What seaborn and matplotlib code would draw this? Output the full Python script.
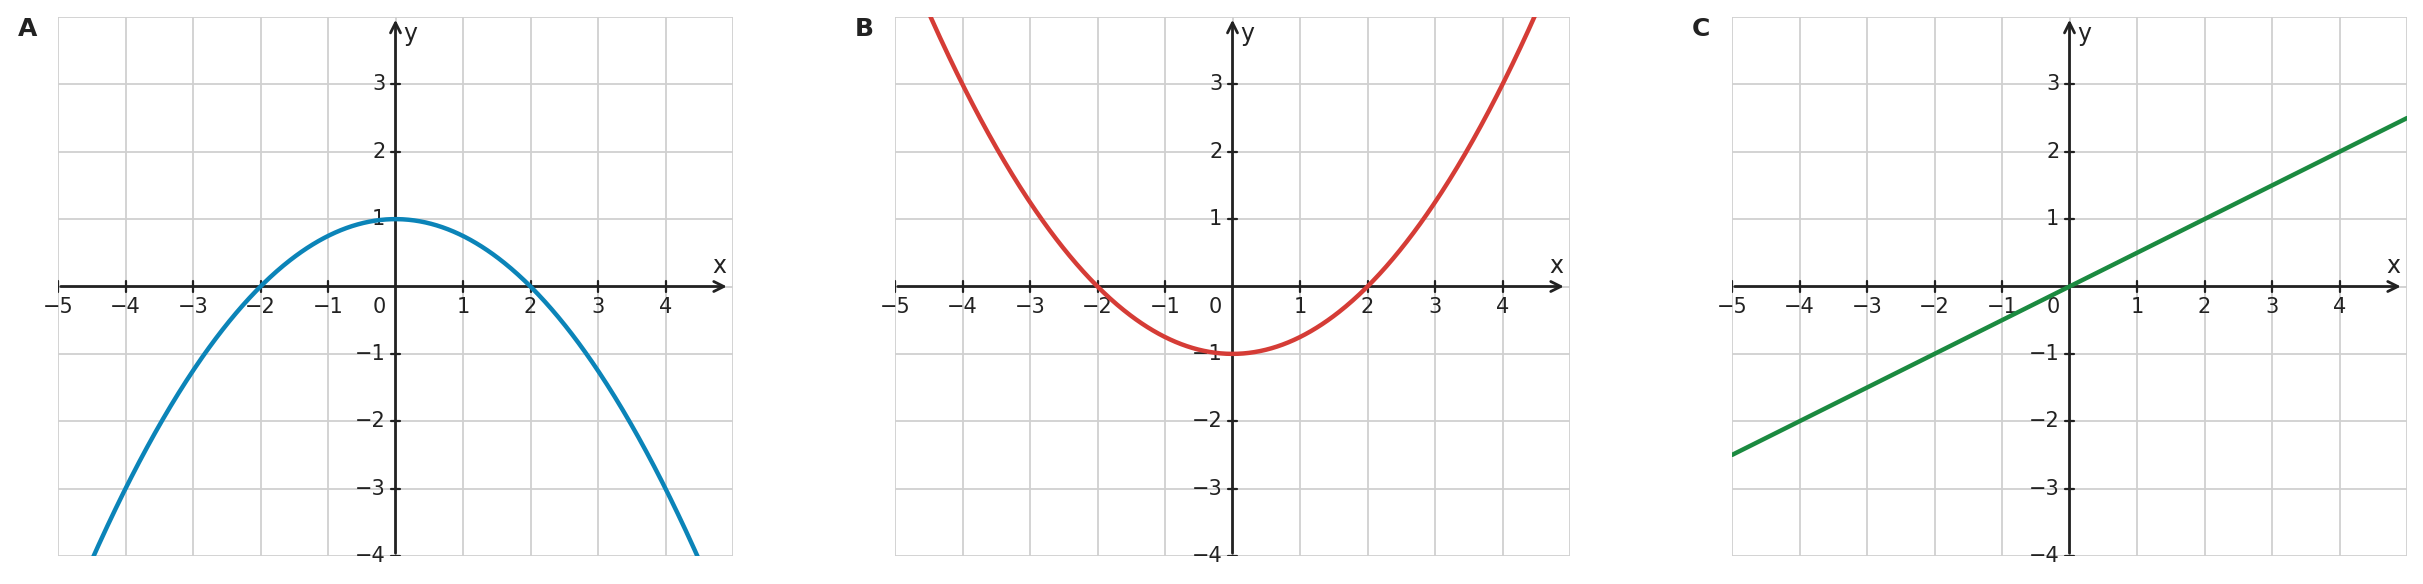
import numpy as np
import matplotlib
matplotlib.use("Agg")
import matplotlib.pyplot as plt
import seaborn as sns
import pandas as pd

sns.set_theme(style="white")
plt.rcParams['font.family'] = ['DejaVu Sans']

panel_labels = ["A", "B", "C"]
# polynomial coefficients (highest power first)
coeffs = [[-0.25, 0.0, 1.0], [0.25, 0.0, -1.0], [0.5, 0.0]]
colors = ["#0b84b8", "#d53c36", "#1b8a40"]
x_ticks = [-5, -4, -3, -2, -1, 1, 2, 3, 4]
y_ticks = [-4, -3, -2, -1, 1, 2, 3]

fig = plt.figure(figsize=(24.23, 5.84), dpi=100)
lefts = [58/2423, 895/2423, 1732/2423]
w = 675/2423
bottom = (584-556)/584
h = (556-17)/584

for i in range(3):
    ax = fig.add_axes([lefts[i], bottom, w, h])
    ax.set_xlim(-5, 5)
    ax.set_ylim(-4, 4)
    for s in ax.spines.values():
        s.set_visible(False)
    ax.set_xticks([]); ax.set_yticks([])
    for g in range(-5, 6):
        ax.axvline(g, color="#d0d0d0", lw=1.3, zorder=0)
    for g in range(-4, 5):
        ax.axhline(g, color="#d0d0d0", lw=1.3, zorder=0)
    ax.annotate("", xy=(4.95, 0), xytext=(-5, 0),
                arrowprops=dict(arrowstyle="->", color="#222", lw=2, mutation_scale=18), annotation_clip=False)
    ax.annotate("", xy=(0, 4.0), xytext=(0, -4),
                arrowprops=dict(arrowstyle="->", color="#222", lw=2, mutation_scale=18), annotation_clip=False)
    for t in x_ticks:
        ax.plot([t, t], [-0.08, 0.08], color="#222", lw=1.6)
        lab = "\u2212" + str(-t) if t < 0 else str(t)
        ax.text(t, -0.15, lab, ha="center", va="top", fontsize=15, color="#222")
    for t in y_ticks:
        ax.plot([-0.06, 0.06], [t, t], color="#222", lw=1.6)
        lab = "\u2212" + str(-t) if t < 0 else str(t)
        ax.text(-0.15, t, lab, ha="right", va="center", fontsize=15, color="#222")
    ax.text(-0.15, -0.15, "0", ha="right", va="top", fontsize=15, color="#222")
    ax.text(4.8, 0.12, "x", ha="center", va="bottom", fontsize=17, color="#222")
    ax.text(0.12, 3.75, "y", ha="left", va="center", fontsize=17, color="#222")
    xs = np.linspace(-5, 5, 600)
    ys = np.polyval(coeffs[i], xs)
    df = pd.DataFrame({"x": xs, "y": ys})
    sns.lineplot(data=df, x="x", y="y", ax=ax, color=colors[i], lw=3.2, zorder=3)
    ax.set_xlabel(""); ax.set_ylabel("")
    ax.set_xlim(-5, 5); ax.set_ylim(-4, 4)
    ax.text(-0.06, 1.0, panel_labels[i], transform=ax.transAxes, fontsize=18,
            fontweight="bold", ha="left", va="top", color="#222")

fig.savefig("out.png", dpi=100)
